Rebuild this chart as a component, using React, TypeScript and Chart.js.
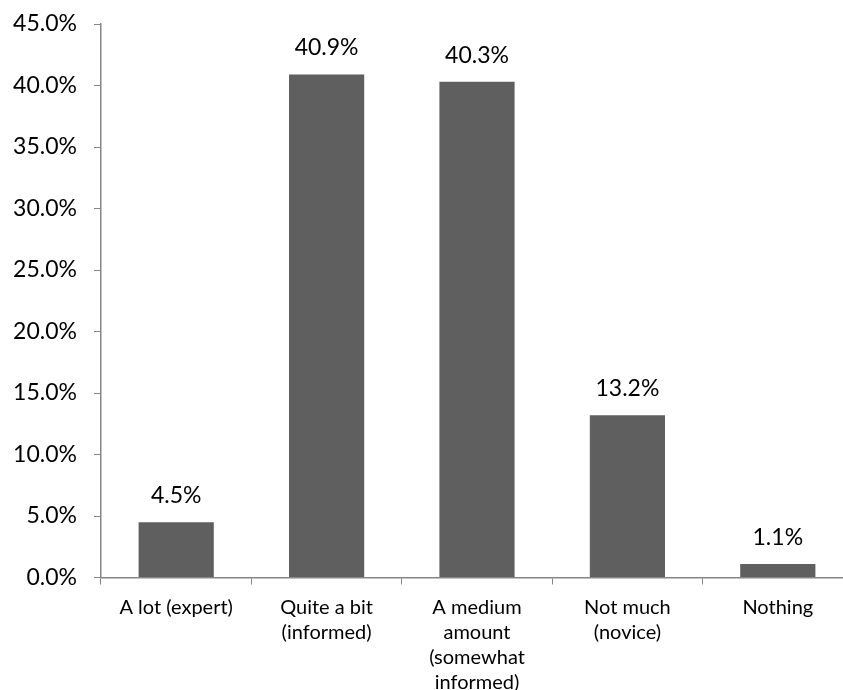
import React, { useEffect, useRef } from "react";
import { Chart, registerables } from "chart.js";

Chart.register(...registerables);

const categories: string[][] = [
  ["A lot (expert)"],
  ["Quite a bit", "(informed)"],
  ["A medium", "amount", "(somewhat", "informed)"],
  ["Not much", "(novice)"],
  ["Nothing"],
];
const values: number[] = [4.5, 40.9, 40.3, 13.2, 1.1];
const yMin = 0;
const yMax = 45;
const yStep = 5;

const FONT = "Lato, 'Open Sans', sans-serif";
const AXIS_COLOR = "#868686";
const BAR_COLOR = "#5f5f5f";

const dataLabelPlugin = {
  id: "dataLabels",
  afterDatasetsDraw(chart: any) {
    const ctx = chart.ctx;
    const meta = chart.getDatasetMeta(0);
    ctx.save();
    ctx.font = `23px ${FONT}`;
    ctx.fillStyle = "#000";
    ctx.textAlign = "center";
    ctx.textBaseline = "alphabetic";
    meta.data.forEach((el: any, i: number) => {
      const v = chart.data.datasets[0].data[i] as number;
      ctx.fillText(v.toFixed(1) + "%", el.x, el.y - 19);
    });
    ctx.restore();
  },
};

export default function App() {
  const ref = useRef<HTMLCanvasElement | null>(null);

  useEffect(() => {
    if (!ref.current) return;
    const chart = new Chart(ref.current, {
      type: "bar",
      data: {
        labels: categories,
        datasets: [
          {
            data: values,
            backgroundColor: BAR_COLOR,
            borderWidth: 0,
            categoryPercentage: 1,
            barPercentage: 0.5,
          },
        ],
      },
      options: {
        responsive: false,
        animation: false,
        devicePixelRatio: 1,
        layout: { padding: { top: 24, right: 17, left: 0, bottom: 0 } },
        plugins: {
          legend: { display: false },
          tooltip: { enabled: false },
        },
        scales: {
          x: {
            offset: true,
            grid: {
              offset: true,
              drawOnChartArea: false,
              drawTicks: true,
              tickLength: 7,
              color: AXIS_COLOR,
            },
            border: { display: true, color: AXIS_COLOR, width: 1.5 },
            ticks: {
              color: "#000",
              font: { family: FONT, size: 20, lineHeight: 1.25 },
              padding: 11,
              maxRotation: 0,
              autoSkip: false,
            },
            afterFit(scale: any) {
              scale.height = 112.5;
            },
          },
          y: {
            min: yMin,
            max: yMax,
            grid: {
              drawOnChartArea: false,
              drawTicks: true,
              tickLength: 7,
              color: AXIS_COLOR,
            },
            border: { display: true, color: AXIS_COLOR, width: 1.5 },
            ticks: {
              stepSize: yStep,
              color: "#000",
              font: { family: FONT, size: 23 },
              padding: 17,
              callback: (v: any) => Number(v).toFixed(1) + "%",
            },
            afterFit(scale: any) {
              scale.width = 101;
              scale.paddingTop = 12;
              scale.paddingBottom = 12;
            },
          },
        },
      },
      plugins: [dataLabelPlugin],
    });
    return () => chart.destroy();
  }, []);

  return (
    <div
      style={{
        position: "absolute",
        left: 0,
        top: 0,
        width: 843,
        height: 690,
        overflow: "hidden",
        background: "#fff",
      }}
    >
      <canvas
        ref={ref}
        width={870}
        height={690}
        style={{ width: 870, height: 690, display: "block" }}
      />
    </div>
  );
}
